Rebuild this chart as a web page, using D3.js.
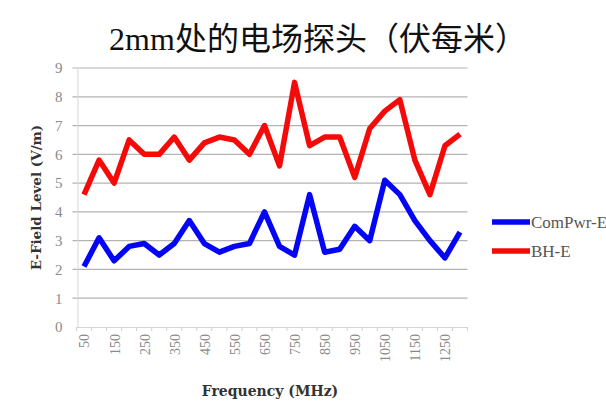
<!DOCTYPE html>
<html>
<head>
<meta charset="utf-8">
<script src="https://cdn.jsdelivr.net/npm/d3@7"></script>
<style>
  body { margin: 0; background: #fff; }
  svg { display: block; }
</style>
</head>
<body>
<svg id="chart" width="606" height="402"></svg>
<script>
// frequencies in MHz, every 50
const freqs = [50, 100, 150, 200, 250, 300, 350, 400, 450, 500, 550, 600, 650,
  700, 750, 800, 850, 900, 950, 1000, 1050, 1100, 1150, 1200, 1250, 1300]
const comPwrE = [2.1, 3.1, 2.3, 2.8, 2.9, 2.5, 2.9, 3.7, 2.9, 2.6, 2.8, 2.9, 4.0,
  2.8, 2.5, 4.6, 2.6, 2.7, 3.5, 3.0, 5.1, 4.6, 3.7, 3.0, 2.4, 3.3]
const bhE = [4.6, 5.8, 5.0, 6.5, 6.0, 6.0, 6.6, 5.8, 6.4, 6.6, 6.5, 6.0, 7.0,
  5.6, 8.5, 6.3, 6.6, 6.6, 5.2, 6.9, 7.5, 7.9, 5.8, 4.6, 6.3, 6.7]
const yTicks = [0, 1, 2, 3, 4, 5, 6, 7, 8, 9]
const seriesNames = ['ComPwr-E', 'BH-E']
const seriesColors = ['#0505f5', '#f50a0a']

const svg = d3.select('#chart')
const plot = {left: 76.5, right: 467.5, top: 68, bottom: 327}

const x = d3.scalePoint().domain(freqs).range([plot.left, plot.right]).padding(0.5)
const y = d3.scaleLinear().domain([0, 9]).range([plot.bottom, plot.top])

// title
svg.append('text')
  .attr('x', 318).attr('y', 50)
  .attr('text-anchor', 'middle')
  .style('font-family', '"Liberation Serif", "Noto Sans CJK SC", serif')
  .style('font-size', '32px')
  .style('fill', '#111')
  .text('2mm处的电场探头（伏每米）')

// grid
svg.append('g')
  .selectAll('line')
  .data(yTicks.filter(d => d > 0))
  .join('line')
  .attr('x1', plot.left - 4).attr('x2', plot.right)
  .attr('y1', d => y(d)).attr('y2', d => y(d))
  .attr('stroke', '#b3b3b3').attr('stroke-width', 1.2)

// y axis
const yAxis = svg.append('g')
  .attr('transform', `translate(${plot.left + 1},0)`)
  .call(d3.axisLeft(y).tickValues(yTicks).tickSize(0).tickPadding(15))
yAxis.select('.domain').attr('stroke', '#d6d6d6')
yAxis.selectAll('text')
  .style('font-family', '"Liberation Serif", serif')
  .style('font-size', '15px')
  .style('fill', '#8a8a8a')

// x axis
const xAxis = svg.append('g')
  .attr('transform', `translate(0,${plot.bottom})`)
  .call(d3.axisBottom(x).tickValues(freqs.filter((d, i) => i % 2 === 0)).tickSize(0))
xAxis.select('.domain').attr('stroke', '#d6d6d6')
xAxis.selectAll('text')
  .attr('transform', 'rotate(-90)')
  .attr('x', -7).attr('y', 0).attr('dy', '0.35em')
  .attr('text-anchor', 'end')
  .style('font-family', '"Liberation Serif", serif')
  .style('font-size', '14px')
  .style('fill', '#8a8a8a')

// small category ticks
svg.append('g')
  .selectAll('line')
  .data(d3.range(freqs.length + 1))
  .join('line')
  .attr('x1', i => plot.left + i * x.step())
  .attr('x2', i => plot.left + i * x.step())
  .attr('y1', plot.bottom).attr('y2', plot.bottom + 4)
  .attr('stroke', '#d0d0d0')

// axis titles
svg.append('text')
  .attr('transform', `translate(41,${(plot.top + plot.bottom) / 2}) rotate(-90)`)
  .attr('text-anchor', 'middle')
  .style('font-family', '"DejaVu Serif", serif')
  .style('font-weight', 'bold')
  .style('font-size', '13.5px')
  .style('fill', '#333')
  .text('E-Field Level (V/m)')

svg.append('text')
  .attr('x', 270).attr('y', 396)
  .attr('text-anchor', 'middle')
  .style('font-family', '"DejaVu Serif", serif')
  .style('font-weight', 'bold')
  .style('font-size', '14px')
  .style('fill', '#333')
  .text('Frequency (MHz)')

// lines
const line = d3.line().x((d, i) => x(freqs[i])).y(d => y(d))
;[comPwrE, bhE].forEach((vals, k) => {
  svg.append('path')
    .datum(vals)
    .attr('d', line)
    .attr('fill', 'none')
    .attr('stroke', seriesColors[k])
    .attr('stroke-width', 5.5)
    .attr('stroke-linejoin', 'round')
})

// legend
const legend = svg.append('g')
  .selectAll('g')
  .data(seriesNames)
  .join('g')
  .attr('transform', (d, i) => `translate(492,${222 + i * 29})`)
legend.append('line')
  .attr('x1', 0).attr('x2', 38)
  .attr('stroke', (d, i) => seriesColors[i])
  .attr('stroke-width', 5.5)
legend.append('text')
  .attr('x', 39).attr('dy', '0.35em')
  .style('font-family', '"Liberation Serif", serif')
  .style('font-size', '17px')
  .style('fill', '#555')
  .text(d => d)
</script>
</body>
</html>
